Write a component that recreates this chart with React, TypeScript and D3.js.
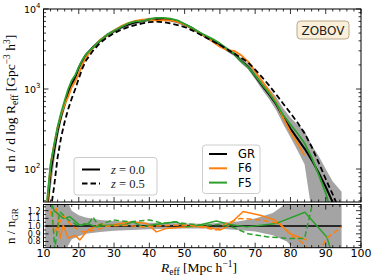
import React from 'react'
import * as d3 from 'd3'

// void size function, all binned in R_eff [Mpc/h]
const rGrid = [11, 12, 13, 14, 15, 16, 17, 18, 19, 20, 21, 22, 24, 26, 28, 30, 32, 34, 36, 38, 40, 42, 44, 46, 48, 50, 52, 54, 56, 58, 60, 62, 64, 66, 68, 70, 72, 74, 76, 78, 80, 82, 84, 86, 88, 90, 92, 94]
const grZ0 = [30, 90, 170, 300, 460, 650, 900, 1150, 1400, 1850, 2250, 2650, 3300, 4000, 4700, 5300, 5900, 6400, 6800, 7100, 7400, 7550, 7500, 7300, 6950, 6400, 5800, 5100, 4500, 4000, 3550, 3100, 2750, 2250, 1900, 1450, 1100, 850, 640, 440, 320, 240, 180, 130, 90, 60, 38, 25]
const grZ5 = [15, 30, 60, 140, 250, 390, 560, 760, 1000, 1350, 1800, 2250, 3000, 3750, 4400, 5000, 5500, 5950, 6300, 6600, 6850, 6950, 6850, 6600, 6300, 5950, 5450, 4900, 4400, 3950, 3550, 3150, 2800, 2450, 2150, 1750, 1400, 1100, 850, 650, 500, 380, 280, 190, 120, 75, 48, 30]
const f6Z0 = [35, 110, 200, 330, 480, 640, 800, 1050, 1250, 1550, 2000, 2450, 3250, 4100, 4700, 5400, 6100, 6650, 7100, 7350, 7350, 7150, 7250, 7200, 6900, 6350, 5800, 5100, 4500, 3900, 3380, 3070, 3000, 2650, 2200, 1660, 1250, 940, 680, 430, 290, 210, 148]
const f5Z0 = [40, 115, 200, 340, 510, 720, 1000, 1280, 1500, 1880, 2300, 2700, 3300, 4020, 4750, 5350, 5950, 6600, 7000, 7050, 7450, 7750, 7750, 7600, 7200, 6500, 5850, 5150, 4650, 4200, 3720, 3180, 2750, 2230, 1880, 1470, 1130, 880, 660, 470, 360, 280, 210, 140, 85, 50, 25]

// GR scatter band
const bandR = [11, 12, 13, 14, 15, 16, 17, 18, 19, 20, 21, 22, 24, 26, 28, 30, 32, 34, 36, 38, 40, 42, 44, 46, 48, 50, 52, 54, 56, 58, 60, 62, 64, 66, 68, 70, 72, 74, 76, 78, 80, 82, 84, 86, 88, 90, 92, 94.5]
const bandHi = [50, 130, 220, 360, 530, 740, 1000, 1270, 1530, 2000, 2400, 2820, 3500, 4230, 4960, 5580, 6200, 6720, 7130, 7440, 7750, 7900, 7850, 7650, 7290, 6680, 6060, 5340, 4720, 4210, 3750, 3290, 2940, 2440, 2100, 1640, 1280, 1010, 790, 570, 440, 360, 300, 200, 145, 100, 70, 52]
const bandLo = [20, 55, 120, 240, 390, 560, 790, 1030, 1270, 1700, 2100, 2480, 3100, 3780, 4460, 5020, 5600, 6080, 6460, 6750, 7030, 7170, 7130, 6940, 6600, 6130, 5560, 4890, 4310, 3820, 3390, 2940, 2590, 2100, 1750, 1320, 980, 740, 540, 360, 250, 170, 115, 30, 10, 10, 10, 10]

// ratio panel
const ratioBandR = [10.5, 16, 17, 18, 20, 22, 26, 30, 35, 40, 45, 50, 55, 60, 65, 70, 75, 79, 82, 94.5]
const ratioBandHi = [1.35, 1.35, 1.3, 1.2, 1.14, 1.11, 1.08, 1.065, 1.055, 1.045, 1.04, 1.035, 1.03, 1.04, 1.06, 1.1, 1.17, 1.3, 1.35, 1.35]
const ratioBandLo = [0.65, 0.65, 0.75, 0.83, 0.87, 0.9, 0.925, 0.94, 0.95, 0.96, 0.965, 0.97, 0.97, 0.965, 0.95, 0.93, 0.88, 0.8, 0.65, 0.65]
const grRatioR = [10.5, 94.5]
const grRatio = [1, 1]
const f6RatioZ0R = [12.3, 13.7, 14.7, 15.6, 17, 19, 20.3, 22.6, 24.6, 26, 28, 31.7, 35.4, 39.2, 42, 44.9, 50.6, 55, 60, 62, 66.6, 71.4, 75.6, 79.9, 84.6]
const f6RatioZ0 = [1.15, 1.23, 0.84, 1.01, 0.845, 0.88, 0.82, 0.95, 0.99, 1.03, 1.0, 1.035, 1.055, 1.035, 0.925, 0.97, 0.99, 1.0, 0.95, 0.99, 1.19, 1.14, 1.08, 0.9, 0.82]
const f5RatioZ0R = [12.3, 13, 15.6, 17.5, 20.3, 22.6, 25, 27.9, 32.5, 35.4, 38.2, 40.2, 43.9, 47.7, 50.6, 54, 59, 62.8, 67.6, 76, 84.1, 90.3, 91.5]
const f5RatioZ0 = [1.3, 1.2, 1.1, 1.12, 1.01, 1.03, 0.99, 1.01, 1.01, 1.055, 0.99, 1.01, 1.035, 1.055, 0.99, 1.01, 1.065, 1.02, 0.99, 1.035, 1.18, 0.86, 0.68]
const f5RatioZ5R = [12.3, 13.2, 14.6, 17, 20, 23.2, 24, 25.5, 29.7, 34.5, 40, 43.9, 46.8, 50, 55, 60, 64, 68, 73.7, 79.9, 84, 86.4]
const f5RatioZ5 = [1.3, 0.7, 1.19, 1.08, 1.0, 1.055, 1.12, 1.01, 1.08, 1.055, 1.08, 1.035, 1.055, 1.035, 1.01, 1.02, 0.98, 0.9, 0.86, 0.84, 0.84, 1.32]
const f6RatioZ5R = [12, 13, 15.6, 18, 21.2, 25, 28, 33, 38, 42, 46, 51.5, 59, 61.9, 65.7, 71.4, 77, 80.7, 83.6, 86, 88, 90.2, 94.5]
const f6RatioZ5 = [1.2, 0.9, 1.14, 1.0, 0.925, 0.95, 1.0, 1.01, 0.99, 1.0, 1.01, 1.01, 0.95, 1.035, 1.1, 1.08, 1.035, 0.86, 0.78, 0.65, 0.65, 0.84, 0.99]

const xTicks = [10, 20, 30, 40, 50, 60, 70, 80, 90, 100]
const yTopTicks = [2, 3, 4]
const yBotTicks = [0.8, 0.9, 1.0, 1.1, 1.2]

const C_GR = '#000000'
const C_F6 = '#ff7f0e'
const C_F5 = '#2ca02c'
const BAND = '#a4a4a4'

const L = 43.5, R = 361
const T1 = 9, B1 = 202
const T2 = 204.5, B2 = 247.7

const x = d3.scaleLinear().domain([10, 100]).range([L, R])
const yTop = d3.scaleLog().domain([Math.pow(10, 1.5875), 1e4]).range([B1, T1])
const yBot = d3.scaleLinear().domain([0.72, 1.28]).range([B2, T2])

const zip = (xs: number[], ys: number[]) => ys.map((v, i) => [xs[i], v] as [number, number])

const App = () => {
  const topLine = d3.line<[number, number]>().x(d => x(d[0])).y(d => yTop(Math.max(d[1], 1)))
  const botLine = d3.line<[number, number]>().x(d => x(d[0])).y(d => yBot(d[1]))
  const topArea = d3.area<number>()
    .x((_, i) => x(bandR[i]))
    .y0((_, i) => yTop(bandLo[i]))
    .y1((_, i) => yTop(bandHi[i]))
  const botArea = d3.area<number>()
    .x((_, i) => x(ratioBandR[i]))
    .y0((_, i) => yBot(ratioBandLo[i]))
    .y1((_, i) => yBot(ratioBandHi[i]))

  const xMinor = d3.range(10, 101, 2).filter(v => v % 10 !== 0)
  const yMinor: number[] = []
  for (let e = 1; e < 4; e++) for (let m = 2; m < 10; m++) {
    const v = m * Math.pow(10, e)
    if (v > yTop.domain()[0]) yMinor.push(v)
  }
  const botMinor = [0.75, 0.85, 0.95, 1.05, 1.15, 1.25]

  const xTickMarks = (top: number, bot: number) => (
    <g stroke="#000" strokeWidth={0.8}>
      {xTicks.map(t => (
        <g key={t}>
          <line x1={x(t)} x2={x(t)} y1={bot} y2={bot - 5} />
          <line x1={x(t)} x2={x(t)} y1={top} y2={top + 5} />
        </g>
      ))}
      {xMinor.map(t => (
        <g key={t}>
          <line x1={x(t)} x2={x(t)} y1={bot} y2={bot - 2.5} />
          <line x1={x(t)} x2={x(t)} y1={top} y2={top + 2.5} />
        </g>
      ))}
    </g>
  )

  const dash = '5.5,3'
  const sans = 'DejaVu Sans'
  const serif = 'Liberation Serif'

  return (
    <svg width={374} height={279} style={{ position: 'absolute', left: 0, top: 0, background: '#fff' }}>
      <defs>
        <clipPath id="c1"><rect x={L} y={T1} width={R - L} height={B1 - T1} /></clipPath>
        <clipPath id="c2"><rect x={L} y={T2} width={R - L} height={B2 - T2} /></clipPath>
      </defs>

      {/* top panel */}
      <g clipPath="url(#c1)" fill="none" strokeLinejoin="round">
        <path d={topArea(bandR) || ''} fill={BAND} stroke="none" />
        <path d={topLine(zip(rGrid, grZ0)) || ''} stroke={C_GR} strokeWidth={2} />
        <path d={topLine(zip(rGrid, f6Z0)) || ''} stroke={C_F6} strokeWidth={1.8} />
        <path d={topLine(zip(rGrid, f5Z0)) || ''} stroke={C_F5} strokeWidth={1.8} />
        <path d={topLine(zip(rGrid, grZ5)) || ''} stroke={C_GR} strokeWidth={1.8} strokeDasharray={dash} />
      </g>

      {/* bottom panel */}
      <g clipPath="url(#c2)" fill="none" strokeLinejoin="round">
        <path d={botArea(ratioBandR) || ''} fill={BAND} stroke="none" />
        <path d={botLine(zip(grRatioR, grRatio)) || ''} stroke={C_GR} strokeWidth={1.5} />
        <path d={botLine(zip(f6RatioZ0R, f6RatioZ0)) || ''} stroke={C_F6} strokeWidth={1.5} />
        <path d={botLine(zip(f5RatioZ0R, f5RatioZ0)) || ''} stroke={C_F5} strokeWidth={1.5} />
        <path d={botLine(zip(f6RatioZ5R, f6RatioZ5)) || ''} stroke={C_F6} strokeWidth={1.5} strokeDasharray={dash} />
        <path d={botLine(zip(f5RatioZ5R, f5RatioZ5)) || ''} stroke={C_F5} strokeWidth={1.5} strokeDasharray={dash} />
      </g>

      {/* frames and ticks */}
      <rect x={L} y={T1} width={R - L} height={B1 - T1} fill="none" stroke="#000" strokeWidth={1} />
      <rect x={L} y={T2} width={R - L} height={B2 - T2} fill="none" stroke="#000" strokeWidth={1} />
      {xTickMarks(T1, B1)}
      {xTickMarks(T2, B2)}
      <g stroke="#000" strokeWidth={0.8}>
        {yTopTicks.map(e => {
          const yy = yTop(Math.pow(10, e))
          return (
            <g key={e}>
              <line x1={L} x2={L + 5} y1={yy} y2={yy} />
              <line x1={R} x2={R - 5} y1={yy} y2={yy} />
            </g>
          )
        })}
        {yMinor.map(v => (
          <g key={v}>
            <line x1={L} x2={L + 2.5} y1={yTop(v)} y2={yTop(v)} />
            <line x1={R} x2={R - 2.5} y1={yTop(v)} y2={yTop(v)} />
          </g>
        ))}
        {yBotTicks.map(v => (
          <g key={v}>
            <line x1={L} x2={L + 5} y1={yBot(v)} y2={yBot(v)} />
            <line x1={R} x2={R - 5} y1={yBot(v)} y2={yBot(v)} />
          </g>
        ))}
        {botMinor.map(v => (
          <g key={v}>
            <line x1={L} x2={L + 2.5} y1={yBot(v)} y2={yBot(v)} />
            <line x1={R} x2={R - 2.5} y1={yBot(v)} y2={yBot(v)} />
          </g>
        ))}
      </g>

      {/* tick labels */}
      <g fontFamily={sans} fontSize={11} textAnchor="middle" fill="#000">
        {xTicks.map(t => <text key={t} x={x(t)} y={B2 + 8.8}>{t}</text>)}
      </g>
      <g fontFamily={sans} fontSize={9.5} textAnchor="end" fill="#000">
        {yTopTicks.map(e => (
          <text key={e} x={L - 3} y={yTop(Math.pow(10, e)) + 3.5}>
            10<tspan fontSize={7} dy={-5}>{e}</tspan>
          </text>
        ))}
      </g>
      <g fontFamily={sans} fontSize={8} textAnchor="end" fill="#000">
        {yBotTicks.map(v => <text key={v} x={L - 3} y={yBot(v) + 2.9}>{v.toFixed(1)}</text>)}
      </g>

      {/* axis labels */}
      <text transform={`translate(15,${(T1 + B1) / 2 - 2}) rotate(-90)`} textAnchor="middle" fontFamily={serif} fontSize={13.5}>
        d n / d log R<tspan fontSize={9.5} dy={2.8}>eff</tspan><tspan dy={-2.8}> [Gpc</tspan>
        <tspan fontSize={9.5} dy={-5}>−3</tspan><tspan dy={5}> h</tspan>
        <tspan fontSize={9.5} dy={-5}>3</tspan><tspan dy={5}>]</tspan>
      </text>
      <text transform={`translate(15,${(T2 + B2) / 2}) rotate(-90)`} textAnchor="middle" fontFamily={serif} fontSize={13}>
        n / n<tspan fontSize={9} dy={2.8}>GR</tspan>
      </text>
      <text x={199} y={272} textAnchor="middle" fontFamily={serif} fontSize={13.5}>
        <tspan fontStyle="italic">R</tspan><tspan fontSize={9.5} dy={2.8}>eff</tspan>
        <tspan dy={-2.8}> [Mpc h</tspan><tspan fontSize={9.5} dy={-5}>−1</tspan><tspan dy={5}>]</tspan>
      </text>

      {/* ZOBOV tag */}
      <rect x={297} y={21} width={52} height={18} rx={3.5} fill="#faefd9" stroke="#b0a080" strokeWidth={0.9} />
      <text x={323} y={34.5} textAnchor="middle" fontFamily={sans} fontSize={12} fill="#222">ZOBOV</text>

      {/* redshift legend */}
      <rect x={74} y={157.5} width={83} height={37.5} rx={3} fill="#fff" fillOpacity={0.85} stroke="#ccc" strokeWidth={1} />
      <line x1={82} x2={100} y1={169.5} y2={169.5} stroke="#000" strokeWidth={2} />
      <line x1={82} x2={100} y1={183.5} y2={183.5} stroke="#000" strokeWidth={2} strokeDasharray={dash} />
      <g fontFamily={serif} fontSize={12.5} fill="#222">
        <text x={111} y={173.5}><tspan fontStyle="italic">z</tspan> = 0.0</text>
        <text x={111} y={187.5}><tspan fontStyle="italic">z</tspan> = 0.5</text>
      </g>

      {/* model legend */}
      <rect x={202.5} y={145} width={57.5} height={48.5} rx={3} fill="#fff" fillOpacity={0.85} stroke="#ccc" strokeWidth={1} />
      {[['GR', C_GR], ['F6', C_F6], ['F5', C_F5]].map(([name, c], i) => (
        <g key={name}>
          <line x1={209} x2={227} y1={154 + i * 14.3} y2={154 + i * 14.3} stroke={c} strokeWidth={2} />
          <text x={238} y={158 + i * 14.3} fontFamily={sans} fontSize={11.5} fill="#000">{name}</text>
        </g>
      ))}
    </svg>
  )
}

export default App
